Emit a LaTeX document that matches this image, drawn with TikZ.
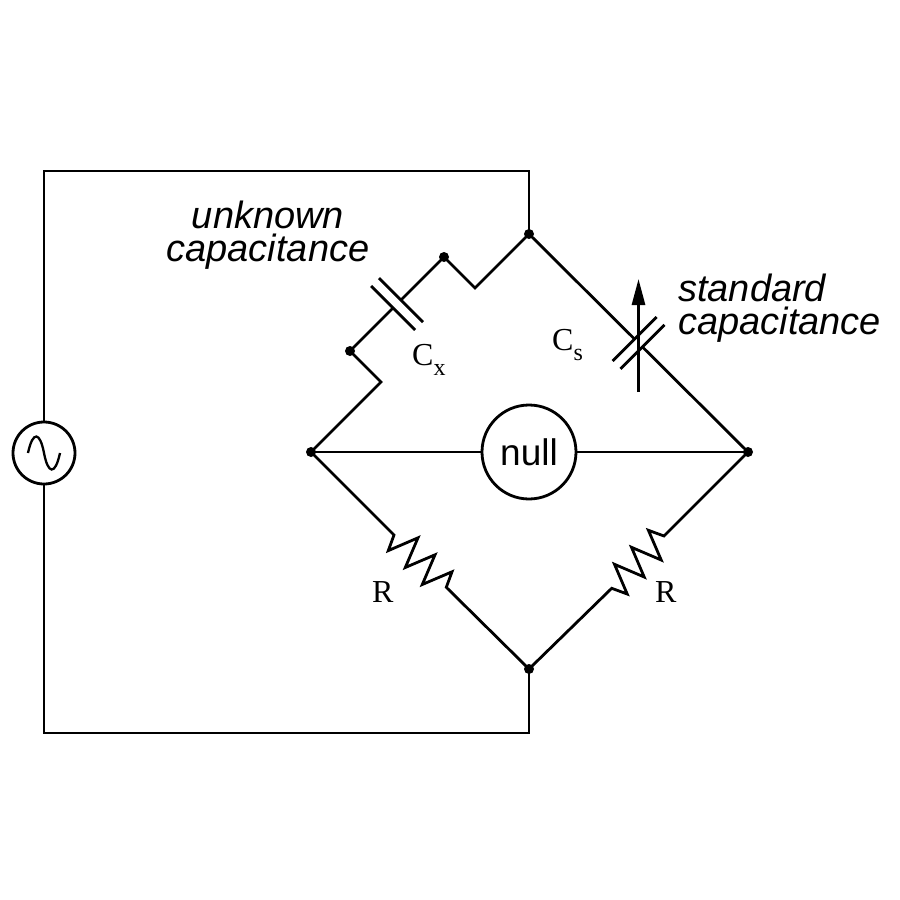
\documentclass[tikz,border=0pt]{standalone}
\usepackage{fontspec}
\newfontfamily\lsans{Liberation Sans}
\newfontfamily\lserif{Liberation Serif}
\usetikzlibrary{arrows.meta,calc}
\begin{document}
\begin{tikzpicture}[x=1pt,y=-1pt,
  wire/.style={line width=2.8pt,line join=miter,line cap=butt},
  dotnode/.style={circle,fill=black,inner sep=0pt,minimum size=10pt},
  biglabel/.style={font=\lsans\itshape\fontsize{38}{33}\selectfont,inner sep=0pt},
  complabel/.style={font=\lserif\fontsize{32}{32}\selectfont,inner sep=0pt},
  nullmeter/.style={circle,draw,line width=2.8pt,minimum size=94pt,inner sep=0pt,font=\lsans\fontsize{37}{37}\selectfont},
  srcnode/.style={circle,draw,line width=2.8pt,minimum size=62pt,inner sep=0pt}]
\useasboundingbox (0,0) rectangle (900,900);
\fill[white] (0,0) rectangle (900,900);
% main nodes
\node[dotnode] (T) at (529,234) {};
\node[dotnode] (B) at (529,669) {};
\node[dotnode] (L) at (311,452) {};
\node[dotnode] (Rn) at (748,452) {};
\node[dotnode] (D1) at (444,257) {};
\node[dotnode] (D2) at (350,351) {};
\node[nullmeter] (null) at (529,452) {null};
\node[srcnode] (src) at (44,453) {};
% corner coordinates
\coordinate (c1) at (475,288);
\coordinate (c2) at (381,382);
\coordinate (tl) at (44,171);
\coordinate (tr) at (529,171);
\coordinate (bl) at (44,733);
\coordinate (br) at (529,733);
% outer loop
\draw[wire] (T.center) -- (tr) -- (tl) -- (src.north);
\draw[wire] (src.south) -- (bl) -- (br) -- (B.center);
% sine in source
\draw[line width=2.3pt] (28,453) .. controls (33,430) and (40,432) .. (44,453)
  .. controls (48,474) and (55,476) .. (60,453);
% galvanometer branch
\draw[wire] (L.center) -- (null.west);
\draw[wire] (null.east) -- (Rn.center);
% unknown capacitor branch
\coordinate (cxa) at (400.9,300.1);
\coordinate (cxb) at (393.1,307.9);
\draw[wire] (T.center) -- (c1) -- (D1.center) -- (cxa);
\draw[wire] (cxb) -- (D2.center) -- (c2) -- (L.center);
\draw[wire] ($(cxa)+(-22,-22)$) -- ($(cxa)+(22,22)$);
\draw[wire] ($(cxb)+(-22,-22)$) -- ($(cxb)+(22,22)$);
% standard capacitor branch
\coordinate (csa) at (634.6,339.1);
\coordinate (csb) at (642.4,346.9);
\draw[wire] (T.center) -- (csa);
\draw[wire] (csb) -- (Rn.center);
\draw[wire] ($(csa)+(-22,22)$) -- ($(csa)+(22,-22)$);
\draw[wire] ($(csb)+(-22,22)$) -- ($(csb)+(22,-22)$);
\coordinate (arA) at (638.5,392);
\coordinate (arB) at (638.5,279);
\draw[wire,-{Triangle[length=26pt,width=13pt]}] (arA) -- (arB);
% left resistor
\coordinate (r1a) at (394,535);
\coordinate (r1b) at (446.3,587.3);
\draw[wire] (L.center) -- (r1a) -- (388.3,550.6) -- (418.0,537.8) -- (405.3,567.5)
  -- (435.0,554.8) -- (422.3,584.5) -- (452.0,571.8) -- (r1b) -- (B.center);
% right resistor
\coordinate (r2a) at (664,536);
\coordinate (r2b) at (611.7,588.3);
\draw[wire] (Rn.center) -- (r2a) -- (648.4,530.3) -- (661.2,560.0) -- (631.5,547.3)
  -- (644.2,577.0) -- (614.5,564.3) -- (627.2,594.0) -- (r2b) -- (B.center);
% labels
\node[biglabel,align=center,anchor=base] (lblu) at (268,261) {unknown\\capacitance};
\node[biglabel,align=left,anchor=base west] (lbls) at (678,334) {standard\\capacitance};
\node[complabel,anchor=base west] (lcx) at (412,365) {C\raisebox{-10pt}{\fontsize{24}{24}\selectfont x}};
\node[complabel,anchor=base west] (lcs) at (552,350) {C\raisebox{-10pt}{\fontsize{24}{24}\selectfont s}};
\node[complabel,anchor=base west] (lr1) at (372,602) {R};
\node[complabel,anchor=base west] (lr2) at (655,602) {R};
\end{tikzpicture}
\end{document}
